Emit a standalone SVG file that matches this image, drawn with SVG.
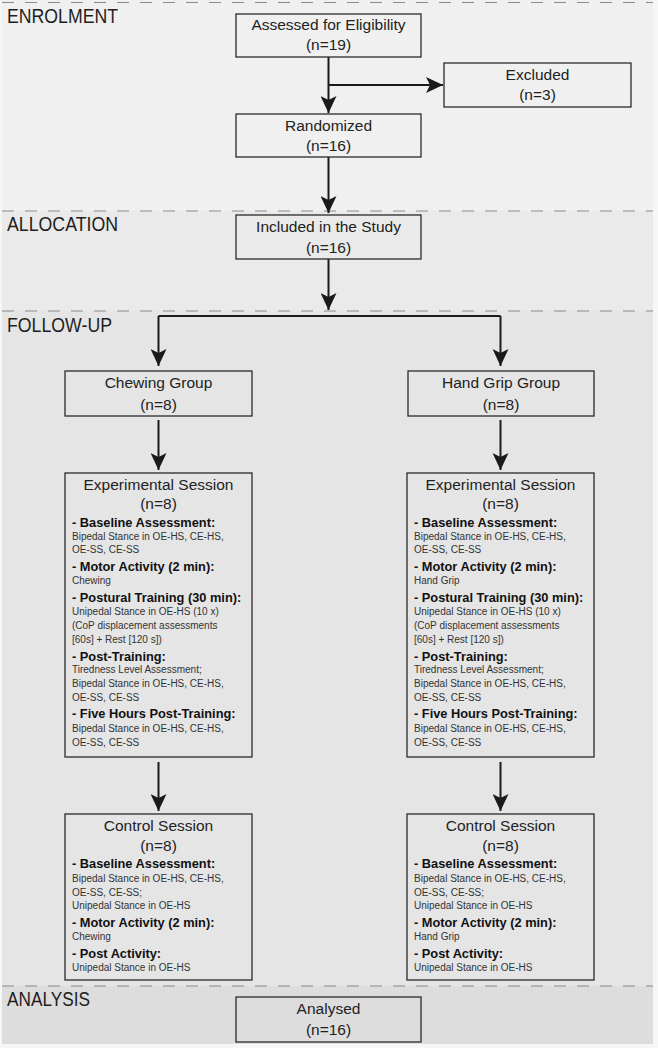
<svg xmlns="http://www.w3.org/2000/svg" width="658" height="1048" viewBox="0 0 658 1048">
<defs>
<style>
.sec{font-family:"Liberation Sans",Arial,sans-serif;font-size:20.5px;fill:#1e1e1e}
.box{fill:none;stroke:#2a2a2a;stroke-width:1.3}
.t{font-family:"Liberation Sans",Arial,sans-serif;font-size:15.5px;fill:#222;text-anchor:middle}
.b{font-family:"Liberation Sans",Arial,sans-serif;font-size:12.8px;font-weight:bold;fill:#111}
.s{font-family:"Liberation Sans",Arial,sans-serif;font-size:10px;fill:#333}
.dash{stroke:#8a8a8a;stroke-width:1.2;stroke-dasharray:12 11;fill:none}
.c{stroke:#1a1a1a;stroke-width:2;fill:none}
.ca{stroke:#1a1a1a;stroke-width:2;fill:none;marker-end:url(#ah)}
</style>
<marker id="ah" viewBox="0 0 17 16" refX="17" refY="8" markerWidth="17" markerHeight="16" markerUnits="userSpaceOnUse" orient="auto">
<path d="M0,0 L17,8 L0,16 L4,8 Z" fill="#1a1a1a"/>
</marker>
</defs>
<rect x="0" y="0" width="658" height="1048" fill="#f6f6f6"/>
<g id="bands">
<rect x="2" y="0" width="651" height="211" fill="#f0f0f0"/>
<rect x="2" y="211" width="651" height="100" fill="#eaeaea"/>
<rect x="2" y="311" width="651" height="675" fill="#e5e5e5"/>
<rect x="2" y="986" width="651" height="58" fill="#dddddd"/>
<path class="dash" d="M2,2.5 H653 M2,211 H653 M2,311 H653 M2,986 H653"/>
<text class="sec" x="7" y="23" textLength="111" lengthAdjust="spacingAndGlyphs">ENROLMENT</text>
<text class="sec" x="7" y="231" textLength="111" lengthAdjust="spacingAndGlyphs">ALLOCATION</text>
<text class="sec" x="7" y="332" textLength="105" lengthAdjust="spacingAndGlyphs">FOLLOW-UP</text>
<text class="sec" x="7" y="1006" textLength="83" lengthAdjust="spacingAndGlyphs">ANALYSIS</text>
</g>
<g id="connectors">
<path class="ca" d="M328.5,57 V113"/>
<path class="ca" d="M328.5,85 H443"/>
<path class="ca" d="M328.5,157 V213"/>
<path class="ca" d="M328.5,259 V310"/>
<path class="c" d="M158.5,316 H500.5"/>
<path class="ca" d="M158.5,316 V366"/>
<path class="ca" d="M500.5,316 V366"/>
<path class="ca" d="M158.5,420 V470"/>
<path class="ca" d="M500.5,420 V470"/>
<path class="ca" d="M158.5,762 V811"/>
<path class="ca" d="M500.5,762 V811"/>
</g>
<g id="assessed">
<rect class="box" x="236" y="14" width="185" height="43"/>
<text class="t" x="328.5" y="30">Assessed for Eligibility</text>
<text class="t" x="328.5" y="50">(n=19)</text>
</g>
<g id="excluded">
<rect class="box" x="444" y="63" width="187" height="44"/>
<text class="t" x="537.5" y="80">Excluded</text>
<text class="t" x="537.5" y="100">(n=3)</text>
</g>
<g id="randomized">
<rect class="box" x="236" y="114" width="185" height="43"/>
<text class="t" x="328.5" y="131">Randomized</text>
<text class="t" x="328.5" y="151">(n=16)</text>
</g>
<g id="included">
<rect class="box" x="236" y="215" width="185" height="44"/>
<text class="t" x="328.5" y="232">Included in the Study</text>
<text class="t" x="328.5" y="253">(n=16)</text>
</g>
<g id="chewing">
<rect class="box" x="65" y="371" width="187" height="45"/>
<text class="t" x="158.5" y="388">Chewing Group</text>
<text class="t" x="158.5" y="410">(n=8)</text>
</g>
<g id="handgrip">
<rect class="box" x="408" y="371" width="186" height="45"/>
<text class="t" x="501" y="388">Hand Grip Group</text>
<text class="t" x="501" y="410">(n=8)</text>
</g>
<g id="exp-chewing">
<rect class="box" x="65" y="473" width="187" height="284"/>
<text class="t" x="158.5" y="490">Experimental Session</text>
<text class="t" x="158.5" y="509">(n=8)</text>
<text class="b" x="72" y="527">- Baseline Assessment:</text>
<text class="s" x="72" y="540">Bipedal Stance in OE-HS, CE-HS,</text>
<text class="s" x="72" y="553">OE-SS, CE-SS</text>
<text class="b" x="72" y="571">- Motor Activity (2 min):</text>
<text class="s" x="72" y="584">Chewing</text>
<text class="b" x="72" y="602">- Postural Training (30 min):</text>
<text class="s" x="72" y="615">Unipedal Stance in OE-HS (10 x)</text>
<text class="s" x="72" y="629">(CoP displacement assessments</text>
<text class="s" x="72" y="643">[60s] + Rest [120 s])</text>
<text class="b" x="72" y="661">- Post-Training:</text>
<text class="s" x="72" y="673">Tiredness Level Assessment;</text>
<text class="s" x="72" y="687">Bipedal Stance in OE-HS, CE-HS,</text>
<text class="s" x="72" y="701">OE-SS, CE-SS</text>
<text class="b" x="72" y="718">- Five Hours Post-Training:</text>
<text class="s" x="72" y="732">Bipedal Stance in OE-HS, CE-HS,</text>
<text class="s" x="72" y="746">OE-SS, CE-SS</text>
</g>
<g id="exp-handgrip">
<rect class="box" x="407" y="473" width="187" height="284"/>
<text class="t" x="500.5" y="490">Experimental Session</text>
<text class="t" x="500.5" y="509">(n=8)</text>
<text class="b" x="414" y="527">- Baseline Assessment:</text>
<text class="s" x="414" y="540">Bipedal Stance in OE-HS, CE-HS,</text>
<text class="s" x="414" y="553">OE-SS, CE-SS</text>
<text class="b" x="414" y="571">- Motor Activity (2 min):</text>
<text class="s" x="414" y="584">Hand Grip</text>
<text class="b" x="414" y="602">- Postural Training (30 min):</text>
<text class="s" x="414" y="615">Unipedal Stance in OE-HS (10 x)</text>
<text class="s" x="414" y="629">(CoP displacement assessments</text>
<text class="s" x="414" y="643">[60s] + Rest [120 s])</text>
<text class="b" x="414" y="661">- Post-Training:</text>
<text class="s" x="414" y="673">Tiredness Level Assessment;</text>
<text class="s" x="414" y="687">Bipedal Stance in OE-HS, CE-HS,</text>
<text class="s" x="414" y="701">OE-SS, CE-SS</text>
<text class="b" x="414" y="718">- Five Hours Post-Training:</text>
<text class="s" x="414" y="732">Bipedal Stance in OE-HS, CE-HS,</text>
<text class="s" x="414" y="746">OE-SS, CE-SS</text>
</g>
<g id="ctrl-chewing">
<rect class="box" x="65" y="814" width="187" height="166"/>
<text class="t" x="158.5" y="831">Control Session</text>
<text class="t" x="158.5" y="851">(n=8)</text>
<text class="b" x="72" y="868">- Baseline Assessment:</text>
<text class="s" x="72" y="882">Bipedal Stance in OE-HS, CE-HS,</text>
<text class="s" x="72" y="896">OE-SS, CE-SS;</text>
<text class="s" x="72" y="909">Unipedal Stance in OE-HS</text>
<text class="b" x="72" y="927">- Motor Activity (2 min):</text>
<text class="s" x="72" y="940">Chewing</text>
<text class="b" x="72" y="958">- Post Activity:</text>
<text class="s" x="72" y="971">Unipedal Stance in OE-HS</text>
</g>
<g id="ctrl-handgrip">
<rect class="box" x="407" y="814" width="187" height="166"/>
<text class="t" x="500.5" y="831">Control Session</text>
<text class="t" x="500.5" y="851">(n=8)</text>
<text class="b" x="414" y="868">- Baseline Assessment:</text>
<text class="s" x="414" y="882">Bipedal Stance in OE-HS, CE-HS,</text>
<text class="s" x="414" y="896">OE-SS, CE-SS;</text>
<text class="s" x="414" y="909">Unipedal Stance in OE-HS</text>
<text class="b" x="414" y="927">- Motor Activity (2 min):</text>
<text class="s" x="414" y="940">Hand Grip</text>
<text class="b" x="414" y="958">- Post Activity:</text>
<text class="s" x="414" y="971">Unipedal Stance in OE-HS</text>
</g>
<g id="analysed">
<rect class="box" x="236" y="997" width="185" height="45"/>
<text class="t" x="328.5" y="1014">Analysed</text>
<text class="t" x="328.5" y="1035">(n=16)</text>
</g>
</svg>
